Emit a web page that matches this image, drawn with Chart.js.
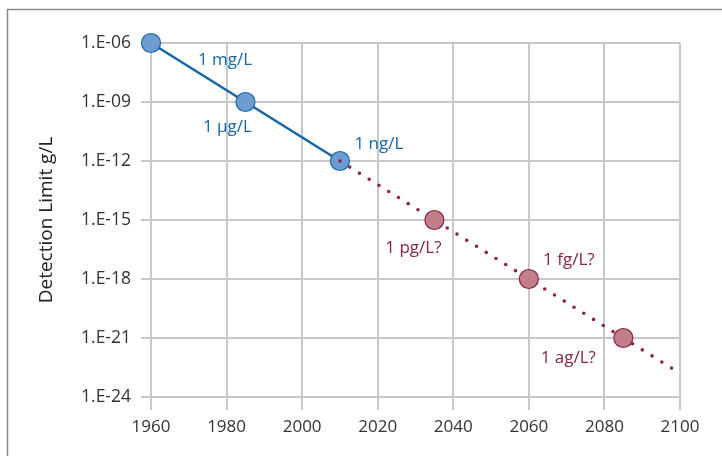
<!DOCTYPE html>
<html>
<head>
<meta charset="utf-8">
<script src="https://cdn.jsdelivr.net/npm/chart.js@4/dist/chart.umd.min.js"></script>
<style>
  html, body { margin: 0; padding: 0; background: #fff; }
  #wrap { width: 722px; height: 456px; position: relative; }
</style>
</head>
<body>
<div id="wrap"><canvas id="myChart" width="722" height="456"></canvas></div>
<script>
// measured past
const pastYears = [1960, 1985, 2010];
const pastValues = [1e-6, 1e-9, 1e-12];
const pastLabels = ['1 mg/L', '1 µg/L', '1 ng/L'];

// projected
const futureYears = [2010, 2035, 2060, 2085, 2100];
const futureValues = [1e-12, 1e-15, 1e-18, 1e-21, 1.6e-23];
const futureLabels = ['', '1 pg/L?', '1 fg/L?', '1 ag/L?', ''];

const yTickValues = [1e-6, 1e-9, 1e-12, 1e-15, 1e-18, 1e-21, 1e-24];
const yTickLabels = ['1.E-06', '1.E-09', '1.E-12', '1.E-15', '1.E-18', '1.E-21', '1.E-24'];

const BLUE = '#1466a8';
const RED = '#8b2346';
const FONT = '"Open Sans", Lato, sans-serif';

// label offsets from their point (px)
const pastOffsets = [[74, 17], [-18, 25], [39, -17]];
const futureOffsets = [null, [-21, 28], [40, -19], [-55, 20], null];

const frame = {
    id: 'frame',
    beforeDraw(chart) {
        const c = chart.ctx;
        c.save();
        c.strokeStyle = '#8a8a8a';
        c.lineWidth = 1.5;
        c.beginPath();
        c.moveTo(7.5, 460);
        c.lineTo(7.5, 9.5);
        c.lineTo(730, 9.5);
        c.stroke();
        c.restore();
    }
};

const pointLabels = {
    id: 'pointLabels',
    afterDatasetsDraw(chart) {
        const c = chart.ctx;
        const xs = chart.scales.x, ys = chart.scales.y;
        c.save();
        c.font = '17px ' + FONT;
        c.textAlign = 'center';
        c.textBaseline = 'middle';
        pastYears.forEach((yr, i) => {
            const o = pastOffsets[i];
            c.fillStyle = BLUE;
            c.fillText(pastLabels[i], xs.getPixelForValue(yr) + o[0], ys.getPixelForValue(pastValues[i]) + o[1]);
        });
        futureYears.forEach((yr, i) => {
            if (!futureLabels[i]) return;
            const o = futureOffsets[i];
            c.fillStyle = RED;
            c.fillText(futureLabels[i], xs.getPixelForValue(yr) + o[0], ys.getPixelForValue(futureValues[i]) + o[1]);
        });
        c.restore();
    }
};

new Chart(document.getElementById('myChart').getContext('2d'), {
    type: 'line',
    data: {
        datasets: [
            {
                data: futureYears.map((x, i) => ({ x: x, y: futureValues[i] })),
                borderColor: RED,
                borderWidth: 3.6,
                borderDash: [0, 11.5],
                borderCapStyle: 'round',
                pointRadius: futureYears.map((x, i) => futureLabels[i] ? 9.5 : 0),
                pointBackgroundColor: '#c27f89',
                pointBorderColor: RED,
                pointBorderWidth: 1.2,
                clip: false,
            },
            {
                data: pastYears.map((x, i) => ({ x: x, y: pastValues[i] })),
                borderColor: BLUE,
                borderWidth: 2.5,
                pointRadius: 9.5,
                pointBackgroundColor: '#6d9dd0',
                pointBorderColor: '#1a68ac',
                pointBorderWidth: 1.2,
                clip: false,
            }
        ]
    },
    options: {
        responsive: false,
        animation: false,
        layout: { padding: { top: 43, right: 42, left: 0, bottom: 0 } },
        plugins: { legend: { display: false }, tooltip: { enabled: false } },
        scales: {
            x: {
                type: 'linear',
                min: 1960,
                max: 2100,
                ticks: {
                    stepSize: 20,
                    color: '#333',
                    font: { family: FONT, size: 17 },
                    padding: 7,
                    callback: (v) => String(v)
                },
                grid: { color: '#c8c8cc', lineWidth: 2, tickLength: 13 },
                border: { display: false },
                afterFit(scale) { scale.height = 59; }
            },
            y: {
                type: 'logarithmic',
                min: 1e-24,
                max: 1e-6,
                afterBuildTicks(scale) {
                    scale.ticks = yTickValues.map(v => ({ value: v }));
                },
                ticks: {
                    color: '#333',
                    font: { family: FONT, size: 17.5 },
                    padding: 10,
                    callback: (v) => yTickLabels[yTickValues.indexOf(v)]
                },
                grid: { color: '#c8c8cc', lineWidth: 2, tickLength: 10 },
                border: { display: false },
                title: {
                    display: true,
                    text: 'Detection Limit g/L',
                    color: '#222',
                    font: { family: FONT, size: 19 },
                    padding: { top: 35, bottom: 0 }
                },
                afterFit(scale) { scale.width = 151; }
            }
        }
    },
    plugins: [frame, pointLabels]
});
</script>
</body>
</html>
